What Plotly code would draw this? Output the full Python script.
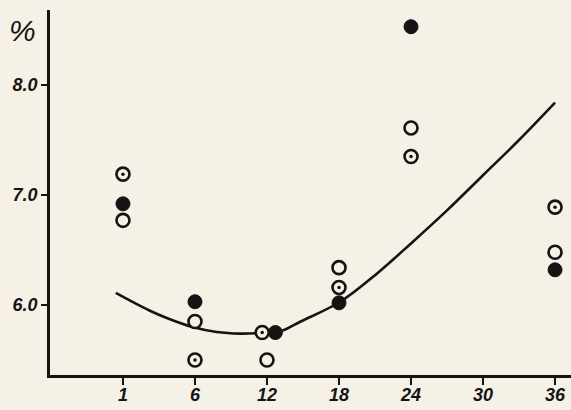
import plotly.graph_objects as go

# x positions: tick "1" sits at position 0, others at their month value
tick_pos = [0, 6, 12, 18, 24, 30, 36]
tick_text = ["1", "6", "12", "18", "24", "30", "36"]

y_tick_vals = [6.0, 7.0, 8.0]
y_tick_text = ["6.0", "7.0", "8.0"]

# filled circles
filled_x = [0, 6, 12.7, 18, 24, 36]
filled_y = [6.92, 6.03, 5.75, 6.02, 8.53, 6.32]

# open circles
open_x = [0, 6, 12, 18, 24, 36]
open_y = [6.77, 5.85, 5.50, 6.34, 7.61, 6.48]

# circles with central dot
dot_x = [0, 6, 11.6, 18, 24, 36]
dot_y = [7.19, 5.50, 5.75, 6.16, 7.35, 6.89]

# fitted curve
curve_x = [-0.6, 2.2, 3.7, 5.8, 7.8, 9.8, 11.4, 13.1, 14.8, 18.1, 21.2, 24, 27, 30, 33, 36]
curve_y = [6.11, 5.95, 5.88, 5.80, 5.755, 5.74, 5.745, 5.76, 5.85, 6.03, 6.29, 6.56, 6.86, 7.18, 7.50, 7.84]

BG = "#f5f1e7"
INK = "#161412"
FONT = dict(family="Liberation Sans", size=18, color=INK, style="italic", weight="bold")

fig = go.Figure()
fig.add_trace(go.Scatter(x=curve_x, y=curve_y, mode="lines",
                         line=dict(color=INK, width=2.6, shape="spline", smoothing=1.0),
                         hoverinfo="skip"))
fig.add_trace(go.Scatter(x=open_x, y=open_y, mode="markers",
                         marker=dict(symbol="circle", size=13, color=BG,
                                     line=dict(color=INK, width=2.6))))
fig.add_trace(go.Scatter(x=filled_x, y=filled_y, mode="markers",
                         marker=dict(symbol="circle", size=14, color=INK,
                                     line=dict(color=INK, width=1))))
fig.add_trace(go.Scatter(x=dot_x, y=dot_y, mode="markers",
                         marker=dict(symbol="circle", size=13, color=BG,
                                     line=dict(color=INK, width=2.6))))
fig.add_trace(go.Scatter(x=dot_x, y=dot_y, mode="markers",
                         marker=dict(symbol="circle", size=3.5, color=INK)))

fig.update_layout(
    width=571, height=410,
    margin=dict(l=50, r=0, t=10, b=35),
    paper_bgcolor=BG, plot_bgcolor=BG,
    showlegend=False,
    font=FONT,
    xaxis=dict(range=[-6.08, 37.33], tickvals=tick_pos, ticktext=tick_text,
               showgrid=False, zeroline=False, showline=True, linecolor=INK, linewidth=2.6,
               ticks="outside", ticklen=7, tickwidth=2, tickcolor=INK,
               ticklabelstandoff=-5, tickfont=FONT),
    yaxis=dict(range=[5.364, 8.682], tickvals=y_tick_vals, ticktext=y_tick_text,
               showgrid=False, zeroline=False, showline=True, linecolor=INK, linewidth=2.6,
               ticks="outside", ticklen=6, tickwidth=2, tickcolor=INK,
               tickfont=FONT),
    annotations=[dict(text="%", xref="paper", yref="paper", x=-0.052, y=0.945,
                      xanchor="center", yanchor="middle", showarrow=False,
                      font=dict(family="Liberation Sans", size=30, color=INK,
                                style="italic", weight="normal"))],
)

fig.write_html("out.html", config={"displayModeBar": False},
               post_script="document.body.style.margin='0px';document.body.style.background='" + BG + "';")
